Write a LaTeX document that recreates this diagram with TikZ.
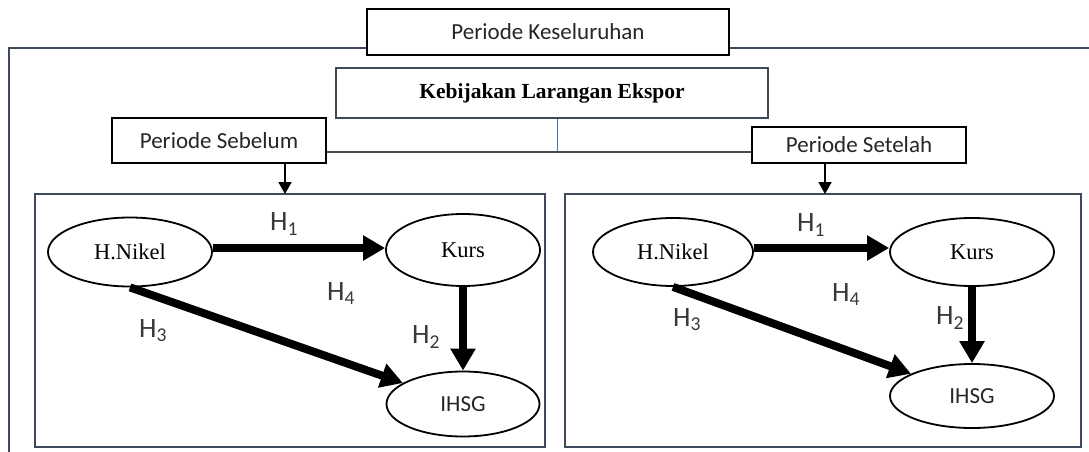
\documentclass[tikz,border=0pt]{standalone}
\usepackage{fontspec}
\setmainfont{Liberation Serif}
\newfontfamily\calfont{Carlito}
\usetikzlibrary{arrows.meta,shapes.geometric}
\definecolor{framec}{HTML}{3E4A5C}
\definecolor{lblc}{HTML}{383838}
\definecolor{connc}{HTML}{4472C4}
\tikzset{
  perbox/.style={draw=black, line width=2.2pt, fill=white, inner sep=0pt,
    font=\calfont\fontsize{23}{27}\selectfont, text=black!85},
  panel/.style={draw=framec, line width=2pt},
  var/.style={ellipse, draw=black, line width=1.8pt, fill=white, inner sep=0pt,
    font=\fontsize{22.5}{26}\selectfont},
  varsans/.style={var, font=\calfont\fontsize{23}{27}\selectfont, text=black!85},
  hlab/.style={font=\calfont\fontsize{28}{32}\selectfont, text=lblc, inner sep=0pt},
  thick arrow/.style={line width=8pt, -{Triangle[length=22pt,width=24pt]}},
  thin arrow/.style={line width=1.8pt, -{Triangle[length=12pt,width=13pt]}}
}
\begin{document}
\begin{tikzpicture}[x=1pt,y=-1pt]
\useasboundingbox (0,0) rectangle (1089,452);
% outer frame
\draw[framec, line width=2pt] (8.6,452) -- (8.6,48.5) -- (1089,48.5);
% top boxes
\node[perbox, minimum width=362pt, minimum height=46pt] (pk) at (548,32) {Periode Keseluruhan};
\node[draw=framec, line width=2pt, fill=white, inner sep=0pt, minimum width=432pt, minimum height=50pt,
  font=\bfseries\fontsize{21.5}{25}\selectfont] (kb) at (552,93) {Kebijakan Larangan Ekspor};
\node[perbox, minimum width=214pt, minimum height=45pt] (ps) at (219,140.5) {Periode Sebelum};
\node[perbox, minimum width=214pt, minimum height=36pt] (pt) at (859,145) {Periode Setelah};
\coordinate (j) at (557,152);
\draw[connc, line width=1pt] (j |- kb.south) -- (j);
\draw[black!70, line width=1.2pt] (ps.east |- j) -- (pt.west |- j);
% panels
\draw[panel] (35,194) rectangle (545,447);
\draw[panel] (565,194) rectangle (1081,447);
\coordinate (pa) at (285,194);
\coordinate (pb) at (825,194);
\draw[thin arrow] (pa |- ps.south) -- (pa);
\draw[thin arrow] (pb |- pt.south) -- (pb);
% left panel
\node[var, minimum width=164pt, minimum height=69pt] (n1) at (130,252) {H.Nikel};
\node[var, minimum width=154pt, minimum height=72pt] (k1) at (463,250) {Kurs};
\node[varsans, minimum width=153pt, minimum height=65pt] (i1) at (463,404) {IHSG};
\draw[thick arrow] (n1.east |- 0,248) -- (k1.west |- 0,248);
\draw[thick arrow] (n1.south) -- (i1);
\draw[thick arrow] (k1.south) -- (i1.north);
\node[hlab] (l1a) at (284,224) {H\textsubscript{1}};
\node[hlab] (l4a) at (341,294) {H\textsubscript{4}};
\node[hlab] (l3a) at (153,331) {H\textsubscript{3}};
\node[hlab] (l2a) at (426,337) {H\textsubscript{2}};
% right panel
\node[var, minimum width=160pt, minimum height=68pt] (n2) at (673,252) {H.Nikel};
\node[var, minimum width=164pt, minimum height=68pt] (k2) at (972,252) {Kurs};
\node[varsans, minimum width=164pt, minimum height=64pt] (i2) at (972,396) {IHSG};
\draw[thick arrow] (n2.east |- 0,248) -- (k2.west |- 0,248);
\draw[thick arrow] (n2.south) -- (i2);
\draw[thick arrow] (k2.south) -- (i2.north);
\node[hlab] (l1b) at (811,225) {H\textsubscript{1}};
\node[hlab] (l4b) at (846,295) {H\textsubscript{4}};
\node[hlab] (l3b) at (687,320) {H\textsubscript{3}};
\node[hlab] (l2b) at (950,318) {H\textsubscript{2}};
\end{tikzpicture}
\end{document}
